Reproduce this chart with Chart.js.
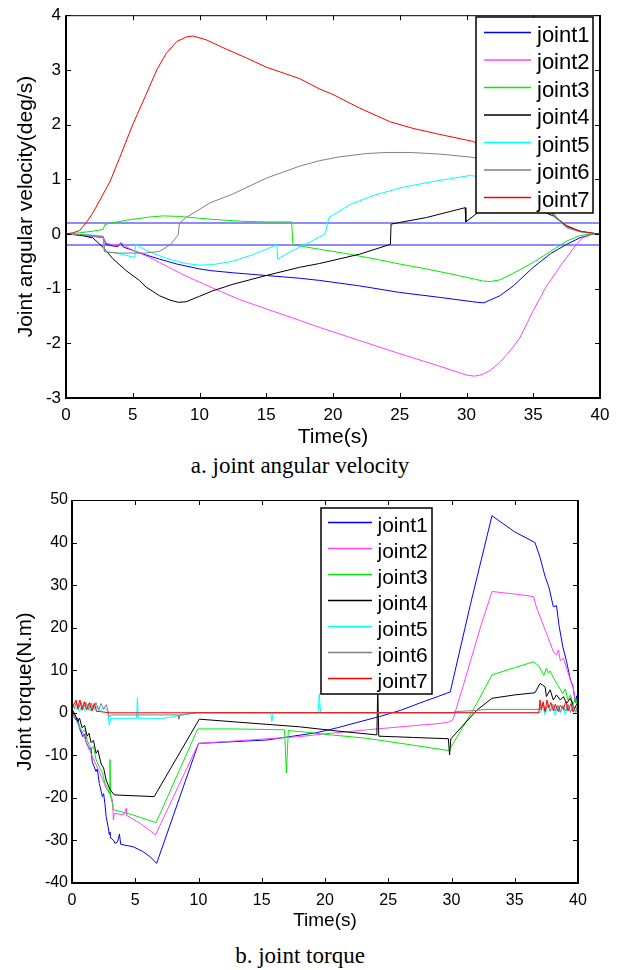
<!DOCTYPE html>
<html lang="en">
<head>
<meta charset="UTF-8">
<title>Joint angular velocity / joint torque</title>
<script src="https://cdn.jsdelivr.net/npm/chart.js"></script>
<style>
  body { margin: 0; background: #fff; width: 624px; height: 970px; position: relative; overflow: hidden; }
  .panel { position: absolute; left: 0; width: 624px; }
  #panelA { top: 0; height: 450px; }
  #panelB { top: 480px; height: 460px; }
  .caption { position: absolute; left: 0; width: 600px; text-align: center;
             font-family: "Liberation Serif", "Times New Roman", serif; font-size: 23px; line-height: 23px; color: #000; }
</style>
</head>
<body>

<div class="panel" id="panelA"><canvas id="velocityChart" width="624" height="450"></canvas></div>
<div class="caption" style="top:454px">a. joint angular velocity</div>

<div class="panel" id="panelB"><canvas id="torqueChart" width="624" height="460"></canvas></div>
<div class="caption" style="top:944px">b. joint torque</div>

<script>
// ---- data (time s, value) ----
const jointNames = ['joint1', 'joint2', 'joint3', 'joint4', 'joint5', 'joint6', 'joint7'];

const velXTicks = [0, 5, 10, 15, 20, 25, 30, 35, 40];
const velYTicks = [-3, -2, -1, 0, 1, 2, 3, 4];
const velBand = [-0.2, 0.2];

const velJoint1 = [[0,0],[1,-0.02],[2,-0.04],[2.8,-0.07],[3.0,-0.19],[3.5,-0.22],[3.9,-0.23],[4.1,-0.16],[4.3,-0.24],[5,-0.3],[5.8,-0.37],[7,-0.46],[8.3,-0.55],[10,-0.64],[10.8,-0.67],[12.5,-0.71],[15,-0.76],[17.5,-0.81],[19,-0.85],[22,-0.95],[25,-1.07],[28,-1.16],[30.8,-1.25],[31.3,-1.26],[32.5,-1.13],[33.5,-0.95],[35,-0.61],[36.3,-0.36],[37.5,-0.19],[38.5,-0.07],[39.5,0],[40,0]];
const velJoint2 = [[0,0],[1,-0.02],[2,-0.04],[2.8,-0.07],[3.0,-0.17],[3.6,-0.2],[4,-0.2],[4.2,-0.17],[4.5,-0.23],[5,-0.3],[6,-0.4],[7,-0.52],[8,-0.65],[9,-0.77],[10,-0.88],[11,-0.99],[13,-1.2],[15,-1.37],[17.5,-1.58],[19,-1.71],[22,-1.95],[25,-2.19],[28,-2.42],[30,-2.58],[30.6,-2.6],[31.2,-2.57],[31.8,-2.49],[32.5,-2.35],[33.3,-2.13],[34,-1.9],[35,-1.4],[36,-0.95],[37,-0.6],[37.5,-0.43],[38.2,-0.2],[38.7,-0.07],[39.5,0],[40,0]];
const velJoint3 = [[0,0],[1,0.02],[2,0.05],[2.8,0.085],[2.9,0.17],[3.2,0.19],[4.5,0.25],[6.3,0.31],[7.3,0.33],[8.5,0.32],[10.8,0.27],[12,0.25],[13.3,0.23],[15,0.22],[16.9,0.22],[17.0,-0.2],[19,-0.28],[21,-0.36],[23,-0.45],[25,-0.55],[27,-0.64],[29,-0.74],[30.5,-0.82],[31.2,-0.86],[31.8,-0.87],[32.5,-0.84],[33.5,-0.72],[35,-0.52],[36.3,-0.32],[37.5,-0.13],[38.5,-0.03],[39.3,0],[40,0]];
const velJoint4 = [[0,0],[1,-0.02],[2,-0.07],[2.8,-0.25],[3.5,-0.45],[4.5,-0.67],[5.5,-0.85],[6,-0.97],[7,-1.13],[7.8,-1.21],[8.4,-1.25],[9,-1.24],[10,-1.14],[11,-1.04],[12.5,-0.92],[15,-0.76],[17.5,-0.61],[19,-0.54],[22,-0.37],[24.3,-0.19],[24.35,0.18],[27,0.3],[29.9,0.48],[29.95,0.22],[31,0.42],[33,0.5],[35,0.48],[36.5,0.33],[37.5,0.15],[38.5,0.05],[39.5,0.01],[40,0]];
const velJoint5 = [[0,0],[1,-0.01],[2,-0.02],[2.8,-0.04],[2.85,-0.31],[3.5,-0.34],[4.5,-0.39],[5.15,-0.43],[5.2,-0.19],[6,-0.3],[7,-0.4],[8,-0.48],[9,-0.54],[10,-0.57],[11,-0.56],[12.5,-0.5],[14,-0.38],[15.8,-0.2],[15.85,-0.46],[17,-0.3],[18.5,-0.12],[19.4,0],[19.7,0.3],[21.3,0.54],[23,0.7],[25,0.84],[27.5,0.96],[30.3,1.07],[32,1.0],[34,0.8],[35.5,0.55],[36.7,0.3],[37.5,0.11],[38.5,0.04],[39.3,0.01],[40,0]];
const velJoint6 = [[0,0],[1,-0.01],[2,-0.03],[2.8,-0.05],[2.9,-0.33],[4,-0.35],[6,-0.35],[7,-0.32],[7.8,-0.2],[8.4,-0.02],[8.5,0.2],[9,0.3],[10,0.45],[10.8,0.57],[12.5,0.73],[15,1.02],[17.5,1.24],[19,1.34],[20.5,1.41],[22.5,1.47],[24,1.49],[25.8,1.49],[28,1.46],[30.5,1.4],[32,1.3],[33.5,1.1],[35,0.75],[36.2,0.45],[36.7,0.32],[37.5,0.12],[38.5,0.04],[39.5,0.01],[40,0]];
const velJoint7 = [[0,0],[0.5,0.02],[1,0.06],[1.5,0.2],[2,0.38],[2.5,0.6],[3.3,0.96],[4,1.38],[5,2.0],[6,2.55],[6.8,3.0],[7.5,3.3],[8.3,3.52],[9,3.6],[9.5,3.62],[10.5,3.55],[12,3.38],[13.5,3.22],[15,3.05],[17.5,2.84],[19,2.65],[20,2.55],[22,2.3],[24.3,2.05],[26,1.93],[28,1.82],[30.5,1.69],[32,1.5],[33.5,1.2],[35,0.8],[36,0.5],[36.7,0.3],[37.5,0.14],[38.5,0.05],[39.3,0.02],[40,0]];

const torqueXTicks = [0, 5, 10, 15, 20, 25, 30, 35, 40];
const torqueYTicks = [-40, -30, -20, -10, 0, 10, 20, 30, 40, 50];

const torqueJoint1 = [[0,0.3],[0.3,-1.7],[0.45,-1.2],[0.6,-3.7],[0.85,-5.6],[1.0,-5.0],[1.1,-6.8],[1.4,-8.7],[1.5,-8.2],[1.6,-11.5],[1.9,-13.8],[2.0,-13.2],[2.16,-16.6],[2.4,-19.7],[2.5,-19.0],[2.6,-21.3],[2.7,-24.4],[2.85,-26.7],[2.95,-28.6],[3.0,-28.0],[3.05,-29.4],[3.27,-29.9],[3.4,-30.7],[3.6,-30.3],[3.75,-28.5],[3.85,-30.9],[4.85,-31.5],[5.6,-32.6],[6.2,-33.9],[6.69,-35.4],[10.0,-7.2],[12,-6.9],[15.4,-6.4],[17,-5.7],[19.3,-4.7],[21,-3.5],[22.5,-2.3],[24.3,-0.9],[26,0.6],[27.5,2.3],[29,3.9],[29.9,4.9],[31.5,25.5],[33.2,46.3],[35,42.5],[36.6,40.0],[37.0,36.5],[37.4,32.0],[37.7,29.5],[38.05,24.9],[38.3,25.2],[38.5,20.5],[38.8,15.5],[39.1,12.0],[39.4,7.7],[39.6,6.2],[39.8,2.3],[39.9,4.0],[40,2.0]];
const torqueJoint2 = [[0,0.5],[0.3,-1.5],[0.6,-3.5],[0.9,-5.0],[1.2,-7.5],[1.5,-9.5],[1.8,-11.5],[2.1,-13.5],[2.4,-15.5],[2.7,-17.7],[3.0,-19.0],[3.2,-20.5],[3.27,-25.2],[3.35,-23.6],[4.1,-24.0],[4.27,-22.5],[4.32,-24.1],[5.4,-26.0],[6.6,-28.7],[10.0,-7.2],[12,-6.8],[15,-6.2],[18,-5.6],[20.5,-4.8],[23.3,-4.0],[26,-3.3],[29.1,-2.5],[29.75,-2.2],[30.1,-1.7],[30.9,6.1],[32.3,20.2],[33.2,28.5],[35,27.9],[36.5,27.3],[36.7,24.9],[37.5,18.7],[38.05,14.4],[38.3,13.6],[38.45,14.8],[38.6,12.2],[38.85,12.8],[39.1,10.4],[39.4,7.7],[39.6,6.5],[39.8,2.3],[40,3.0]];
const torqueJoint3 = [[0,0.5],[0.3,-1.0],[0.5,-2.5],[0.8,-4.5],[1.0,-4.0],[1.2,-6.5],[1.5,-8.5],[1.7,-8.0],[1.9,-11.0],[2.2,-13.0],[2.4,-14.0],[2.6,-16.5],[2.8,-17.5],[2.95,-19.0],[3.0,-11.0],[3.05,-19.5],[3.3,-22.8],[4.8,-24.0],[6.65,-25.8],[9.94,-3.8],[13,-3.8],[16.8,-4.0],[16.95,-14.2],[17.1,-4.2],[18,-4.4],[20.5,-5.2],[23.3,-6.0],[26.5,-7.4],[29.8,-8.9],[32.0,2.2],[33.2,8.9],[35,10.6],[36.5,12.0],[36.9,11.0],[37.3,8.8],[37.5,10.5],[37.65,9.3],[37.8,9.8],[38.1,8.0],[38.4,6.5],[38.8,4.5],[39.0,5.6],[39.2,3.0],[39.4,4.2],[39.6,2.0],[39.8,3.5],[40,1.0]];
const torqueJoint4 = [[0,0.8],[0.25,-0.5],[0.45,-2.0],[0.6,-1.3],[0.8,-3.5],[1.0,-3.0],[1.2,-5.5],[1.35,-4.8],[1.5,-7.0],[1.7,-6.5],[1.9,-9.5],[2.05,-8.8],[2.3,-12.0],[2.5,-13.0],[2.7,-15.8],[3.0,-18.0],[3.35,-19.3],[6.5,-19.7],[10.06,-1.5],[14,-2.4],[18,-3.3],[21,-4.3],[24.1,-5.2],[24.17,6.0],[24.25,-5.5],[27,-5.8],[29.75,-6.1],[29.85,-9.9],[29.95,-6.1],[32,0.6],[33.2,3.4],[35,4.2],[36.6,4.7],[37.0,6.9],[37.4,6.1],[37.5,3.8],[37.8,5.4],[38.05,3.0],[38.3,4.2],[38.6,3.0],[38.85,3.8],[39.1,2.2],[39.4,3.4],[39.7,1.0],[39.95,2.2],[40,1.5]];
const torqueJoint5 = [[0,1.8],[0.3,0.8],[0.45,1.6],[0.6,0.3],[0.8,1.8],[1.0,0.5],[1.2,2.0],[1.4,0.4],[1.6,1.8],[1.8,0.6],[2.0,1.6],[2.2,0.3],[2.5,1.2],[2.8,0.5],[2.95,-2.9],[3.05,-1.3],[5.1,-1.3],[5.17,3.4],[5.25,-1.3],[6.5,-1.3],[7,-1.4],[8,-0.9],[9,-0.4],[9.8,0],[15.7,0],[15.8,-2.1],[15.9,0],[19.45,0],[19.55,4.5],[19.65,0],[37.0,0],[37.2,1.5],[37.4,-0.5],[37.6,1.8],[37.8,0.2],[38.0,1.2],[38.2,-0.6],[38.4,1.6],[38.6,0.0],[38.8,1.5],[39.0,-0.4],[39.2,2.0],[39.4,0.3],[39.6,1.7],[39.8,-0.2],[40,1.0]];
const torqueJoint6 = [[0,2.5],[0.2,1.0],[0.35,2.6],[0.5,0.8],[0.7,2.4],[0.9,1.0],[1.1,2.5],[1.3,0.7],[1.5,2.3],[1.7,0.9],[1.9,2.4],[2.1,0.6],[2.3,2.2],[2.5,0.8],[2.7,1.9],[2.85,0.5],[2.95,-1.0],[3.1,-0.5],[8.4,-0.5],[8.45,-1.5],[8.5,-0.5],[9.8,0],[30.0,0],[30.4,0.3],[31.7,0.5],[32.8,0.8],[37.0,0.8],[37.2,2.2],[37.4,0.3],[37.6,1.9],[37.8,0.5],[38.0,2.0],[38.2,0.4],[38.4,1.8],[38.6,0.2],[38.8,1.7],[39.0,0.4],[39.2,1.9],[39.4,0.1],[39.6,1.5],[39.8,0.3],[40,1.2]];
const torqueJoint7 = [[0,1.0],[0.32,3.0],[0.45,1.0],[0.63,3.0],[0.79,0.6],[0.97,2.6],[1.16,0.65],[1.37,2.4],[1.58,0.4],[1.76,2.2],[1.95,0.3],[2.16,0.3],[2.95,0],[36.9,0],[37.0,3.0],[37.1,0.65],[37.25,2.6],[37.4,0.26],[37.55,3.0],[37.7,1.2],[37.85,2.4],[38.05,0.5],[38.2,2.0],[38.45,0.3],[38.6,1.8],[38.85,0.8],[39.05,2.8],[39.2,0.4],[39.45,2.2],[39.6,0.2],[39.8,1.4],[40,0.6]];

// ---- styling ----
const jointColors = ['#0000ff', '#ff44ff', '#00ee00', '#000000', '#00ffff', '#808080', '#ff0000'];
const sans = '"Liberation Sans", Arial, sans-serif';

Chart.defaults.color = '#000';
Chart.defaults.font.family = sans;

// inward ticks on all four sides, the axes box, and a boxed legend inside the plot
const frameAndLegend = {
  id: 'frameAndLegend',
  afterDatasetsDraw(chart, args, opts) {
    const ctx = chart.ctx, a = chart.chartArea;
    const xs = chart.scales.x, ys = chart.scales.y;
    ctx.save();
    ctx.strokeStyle = '#000';
    ctx.lineWidth = 1;
    ctx.beginPath();
    xs.ticks.forEach(t => {
      const px = Math.round(xs.getPixelForValue(t.value)) + 0.5;
      ctx.moveTo(px, a.bottom); ctx.lineTo(px, a.bottom - opts.tick);
      ctx.moveTo(px, a.top); ctx.lineTo(px, a.top + opts.tick);
    });
    ys.ticks.forEach(t => {
      const py = Math.round(ys.getPixelForValue(t.value)) + 0.5;
      ctx.moveTo(a.left, py); ctx.lineTo(a.left + opts.tick, py);
      ctx.moveTo(a.right, py); ctx.lineTo(a.right - opts.tick, py);
    });
    ctx.stroke();

    ctx.lineWidth = 1;
    ctx.beginPath();
    ctx.moveTo(a.left, a.top + 0.5); ctx.lineTo(a.right, a.top + 0.5);
    ctx.stroke();
    ctx.lineWidth = 2;
    ctx.beginPath();
    ctx.moveTo(a.left, a.top); ctx.lineTo(a.left, a.bottom);
    ctx.lineTo(a.right, a.bottom); ctx.lineTo(a.right, a.top);
    ctx.stroke();

    const L = opts.legend;
    ctx.fillStyle = '#fff';
    ctx.fillRect(L.x, L.y, L.w, L.h);
    ctx.lineWidth = 1.5;
    ctx.strokeStyle = '#000';
    ctx.strokeRect(L.x, L.y, L.w, L.h);
    ctx.font = L.fontSize + 'px ' + sans;
    ctx.textBaseline = 'alphabetic';
    ctx.textAlign = 'left';
    jointNames.forEach((name, i) => {
      const ly = L.first + i * L.gap;
      ctx.strokeStyle = jointColors[i];
      ctx.lineWidth = 1.5;
      ctx.beginPath();
      ctx.moveTo(L.lineX0, ly); ctx.lineTo(L.lineX1, ly);
      ctx.stroke();
      ctx.fillStyle = '#000';
      ctx.fillText(name, L.textX, ly + L.base);
    });
    ctx.restore();
  }
};

function toPoints(series) {
  return series.map(p => ({ x: p[0], y: p[1] }));
}

function jointDatasets(seriesList) {
  return seriesList.map((s, i) => ({
    label: jointNames[i],
    data: toPoints(s),
    borderColor: jointColors[i],
    borderWidth: 1,
    pointRadius: 0,
    tension: 0,
    fill: false,
    order: 10 - i
  }));
}

function makeChart(canvasId, c) {
  return new Chart(document.getElementById(canvasId), {
    type: 'line',
    data: { datasets: c.datasets },
    options: {
      responsive: false,
      animation: false,
      devicePixelRatio: 1,
      layout: { padding: c.padding },
      plugins: {
        legend: { display: false },
        tooltip: { enabled: false },
        frameAndLegend: { tick: 5, legend: c.legend }
      },
      scales: {
        x: {
          type: 'linear',
          min: c.xTicks[0],
          max: c.xTicks[c.xTicks.length - 1],
          afterBuildTicks: s => { s.ticks = c.xTicks.map(v => ({ value: v })); },
          afterFit: s => { s.height = c.xHeight; },
          grid: { display: false, drawTicks: false },
          border: { display: false },
          ticks: { callback: v => String(v), maxRotation: 0, autoSkip: false,
                   padding: c.xPad, font: { size: c.tickSize }, color: '#000' },
          title: { display: true, text: 'Time(s)', color: '#000',
                   font: { size: c.xTitleSize }, padding: { top: 0, bottom: c.xTitlePad } }
        },
        y: {
          type: 'linear',
          min: c.yTicks[0],
          max: c.yTicks[c.yTicks.length - 1],
          afterBuildTicks: s => { s.ticks = c.yTicks.map(v => ({ value: v })); },
          afterFit: s => { s.width = c.yWidth; },
          grid: { display: false, drawTicks: false },
          border: { display: false },
          ticks: { callback: v => String(v), autoSkip: false,
                   padding: c.yPad, font: { size: c.tickSize }, color: '#000' },
          title: { display: true, text: c.yTitle, color: '#000',
                   font: { size: c.yTitleSize }, padding: { top: c.yTitlePad, bottom: 0 } }
        }
      }
    },
    plugins: [frameAndLegend]
  });
}

// a. joint angular velocity
const bandSets = velBand.map(v => ({
  label: 'band',
  data: [{ x: velXTicks[0], y: v }, { x: velXTicks[velXTicks.length - 1], y: v }],
  borderColor: '#8c8cff',
  borderWidth: 2,
  pointRadius: 0,
  order: 20
}));

makeChart('velocityChart', {
  datasets: jointDatasets([velJoint1, velJoint2, velJoint3, velJoint4, velJoint5, velJoint6, velJoint7]).concat(bandSets),
  xTicks: velXTicks, yTicks: velYTicks,
  padding: { left: 0, top: 13, right: 24, bottom: 0 },
  xHeight: 52, yWidth: 66,
  xPad: 7, yPad: 5, tickSize: 17,
  xTitleSize: 21, xTitlePad: 0.6,
  yTitle: 'Joint angular velocity(deg/s)', yTitleSize: 21, yTitlePad: 14,
  legend: { x: 476, y: 17, w: 117, h: 196, first: 32.5, gap: 27.5,
            lineX0: 484, lineX1: 531, textX: 537, base: 9, fontSize: 22 }
});

// b. joint torque
makeChart('torqueChart', {
  datasets: jointDatasets([torqueJoint1, torqueJoint2, torqueJoint3, torqueJoint4, torqueJoint5, torqueJoint6, torqueJoint7]),
  xTicks: torqueXTicks, yTicks: torqueYTicks,
  padding: { left: 0, top: 20, right: 46, bottom: 0 },
  xHeight: 57, yWidth: 72,
  xPad: 8, yPad: 4, tickSize: 16,
  xTitleSize: 19, xTitlePad: 7.4,
  yTitle: 'Joint torque(N.m)', yTitleSize: 20.5, yTitlePad: 12.7,
  legend: { x: 321, y: 28, w: 111, h: 186, first: 42.5, gap: 26,
            lineX0: 328, lineX1: 372, textX: 377.5, base: 9, fontSize: 21 }
});
</script>
</body>
</html>
